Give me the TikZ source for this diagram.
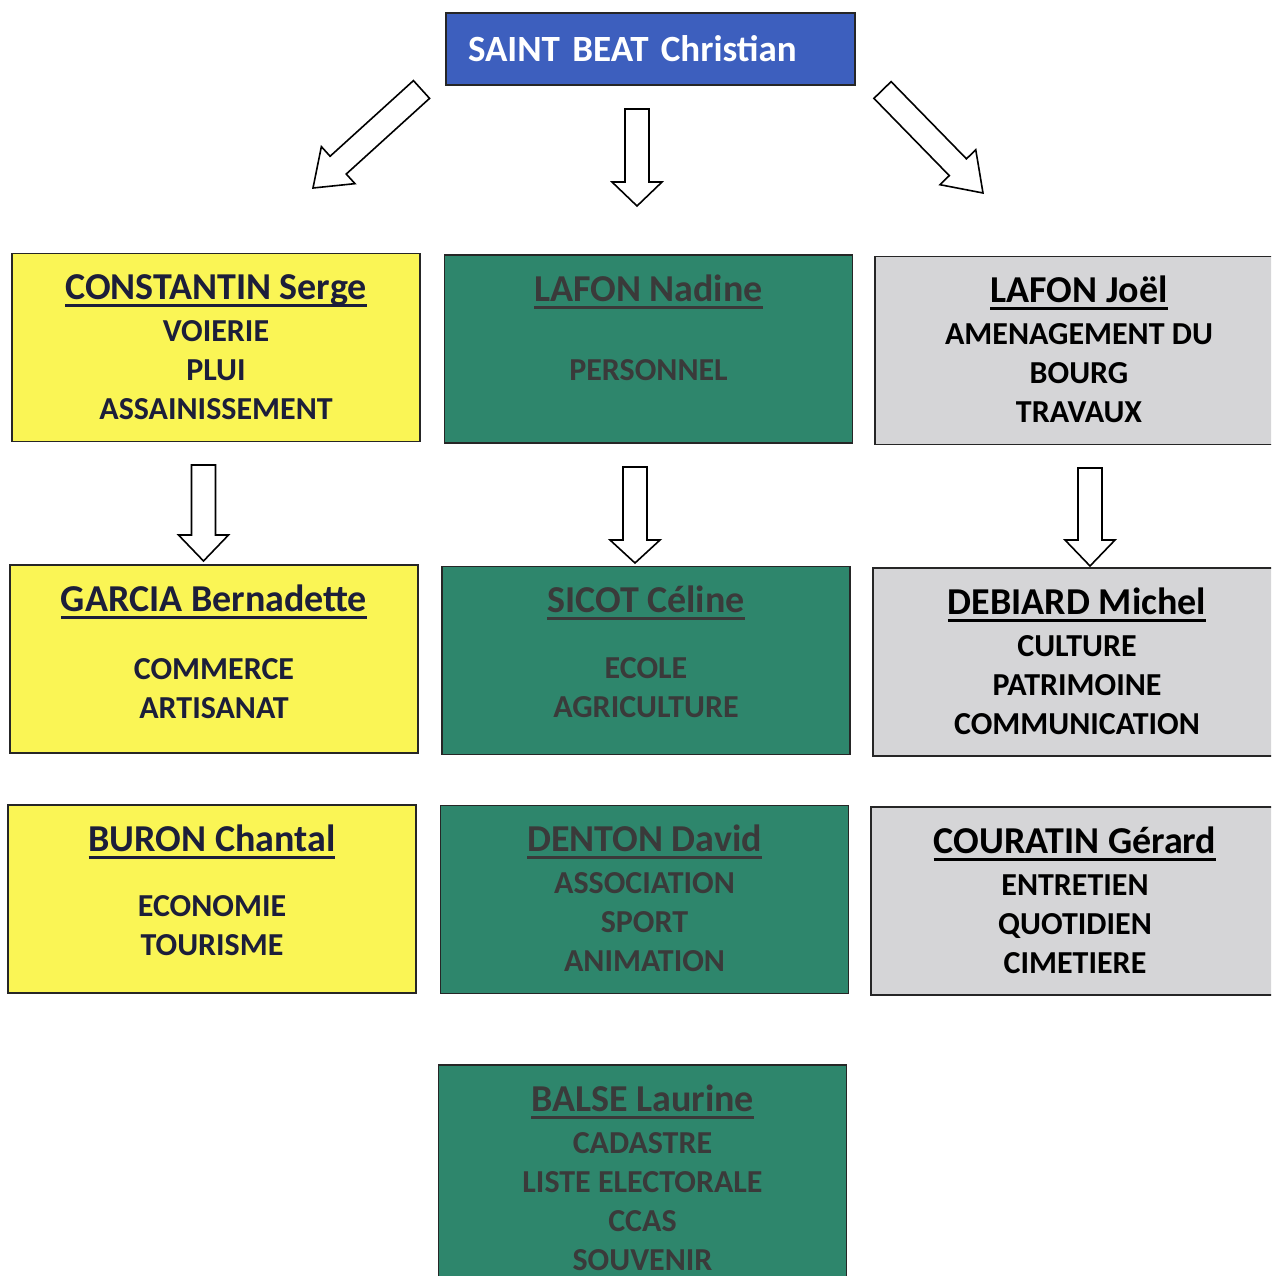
\documentclass[tikz,border=0pt]{standalone}
\usepackage{fontspec}
\setmainfont{Carlito}
\usepackage{tikz}
\usetikzlibrary{positioning}
\usetikzlibrary{calc}
\usepackage{xcolor}

\definecolor{chefblue}{RGB}{61,95,190}
\definecolor{jaune}{RGB}{250,245,85}
\definecolor{vert}{RGB}{46,134,108}
\definecolor{gris}{RGB}{213,213,215}
\definecolor{encre}{RGB}{28,30,58}
\definecolor{ardoise}{RGB}{58,58,58}

\newcommand{\namefont}{\fontsize{38}{39}\selectfont}
\newcommand{\nom}[1]{\setbox0=\hbox{#1}\rlap{\rule[-0.19em]{\wd0}{0.07em}}\box0}

\begin{document}
\begin{tikzpicture}[x=1pt, y=-1pt,
        box/.style={draw=black!85, line width=1.8pt, minimum width=408pt, minimum height=188pt, inner sep=0pt},
        txt/.style={align=center, inner sep=0pt, font=\fontsize{32}{39}\selectfont\bfseries},
        boss/.style={draw=black!85, line width=1.8pt, fill=chefblue, text=white, align=left,
            font=\fontsize{37}{40}\selectfont\bfseries, text width=365pt, inner xsep=22pt, minimum height=72pt},
        blockarrow/.style={draw, fill=white, line width=1.6pt, line join=miter,
            to path={($(\tikztostart)!12pt!90:(\tikztotarget)$)
                -- ($(\tikztotarget)!#1pt!(\tikztostart)!12pt!-90:(\tikztostart)$)
                -- ($(\tikztotarget)!#1pt!(\tikztostart)!25pt!-90:(\tikztostart)$)
                -- (\tikztotarget)
                -- ($(\tikztotarget)!#1pt!(\tikztostart)!25pt!90:(\tikztostart)$)
                -- ($(\tikztotarget)!#1pt!(\tikztostart)!12pt!90:(\tikztostart)$)
                -- ($(\tikztostart)!12pt!-90:(\tikztotarget)$) -- cycle}},
        blockarrow/.default=25]
        \path[use as bounding box, clip] (0,0) rectangle (1271,1276);

        \node[boss] (saint) at (650.5,49) {SAINT BEAT Christian};

        \node[box, fill=jaune] (constantin) at (216,347.5) {};
        \node[box, fill=vert] (nadine) at (648.5,349) {};
        \node[box, fill=gris] (joel) at (1079,350.5) {};
        \node[box, fill=jaune] (garcia) at (214,659) {};
        \node[box, fill=vert] (sicot) at (646,660.5) {};
        \node[box, fill=gris] (debiard) at (1077,662) {};
        \node[box, fill=jaune] (buron) at (212,899) {};
        \node[box, fill=vert] (denton) at (644.5,899.5) {};
        \node[box, fill=gris] (couratin) at (1075,901) {};
        \node[box, fill=vert, minimum height=230pt] (balse) at (642.5,1180) {};

        \node[txt, text=encre, below=19pt of constantin.north] (constantin-txt)
            {\rule{0pt}{28pt}{\namefont\nom{CONSTANTIN Serge}}\\[3pt]VOIERIE\\PLUI\\ASSAINISSEMENT};
        \node[txt, text=ardoise, below=19pt of nadine.north] (nadine-txt)
            {\rule{0pt}{28pt}{\namefont\nom{LAFON Nadine}}\\[40pt]PERSONNEL};
        \node[txt, text=black, below=19pt of joel.north] (joel-txt)
            {\rule{0pt}{28pt}{\namefont\nom{LAFON Joël}}\\[3pt]AMENAGEMENT DU\\BOURG\\TRAVAUX};
        \node[txt, text=encre, below=19pt of garcia.north] (garcia-txt)
            {\rule{0pt}{28pt}{\namefont\nom{GARCIA Bernadette}}\\[29pt]COMMERCE\\ARTISANAT};
        \node[txt, text=ardoise, below=19pt of sicot.north] (sicot-txt)
            {\rule{0pt}{28pt}{\namefont\nom{SICOT Céline}}\\[27pt]ECOLE\\AGRICULTURE};
        \node[txt, text=black, below=19pt of debiard.north] (debiard-txt)
            {\rule{0pt}{28pt}{\namefont\nom{DEBIARD Michel}}\\[3pt]CULTURE\\PATRIMOINE\\COMMUNICATION};
        \node[txt, text=encre, below=19pt of buron.north] (buron-txt)
            {\rule{0pt}{28pt}{\namefont\nom{BURON Chantal}}\\[26pt]ECONOMIE\\TOURISME};
        \node[txt, text=ardoise, below=19pt of denton.north] (denton-txt)
            {\rule{0pt}{28pt}{\namefont\nom{DENTON David}}\\[3pt]ASSOCIATION\\SPORT\\ANIMATION};
        \node[txt, text=black, below=19pt of couratin.north] (couratin-txt)
            {\rule{0pt}{28pt}{\namefont\nom{COURATIN Gérard}}\\[3pt]ENTRETIEN\\QUOTIDIEN\\CIMETIERE};
        \node[txt, text=ardoise, below=19pt of balse.north] (balse-txt)
            {\rule{0pt}{28pt}{\namefont\nom{BALSE Laurine}}\\[3pt]CADASTRE\\LISTE ELECTORALE\\CCAS\\SOUVENIR};

        \coordinate (a1) at (421.5,89.5);
        \coordinate (b1) at (313,188);
        \coordinate (a2) at (637,109);
        \coordinate (b2) at (637,206);
        \coordinate (a3) at (882.5,90);
        \coordinate (b3) at (983,193);
        \coordinate (a4) at (203.5,465);
        \coordinate (b4) at (203.5,561);
        \coordinate (a5) at (635,467);
        \coordinate (b5) at (635,563);
        \coordinate (a6) at (1090,468);
        \coordinate (b6) at (1090,566);

        \draw[blockarrow=34] (a1) to (b1);
        \draw[blockarrow=24] (a2) to (b2);
        \draw[blockarrow=36] (a3) to (b3);
        \draw[blockarrow=26] (a4) to (b4);
        \draw[blockarrow=23] (a5) to (b5);
        \draw[blockarrow=26] (a6) to (b6);
    \end{tikzpicture}
\end{document}
